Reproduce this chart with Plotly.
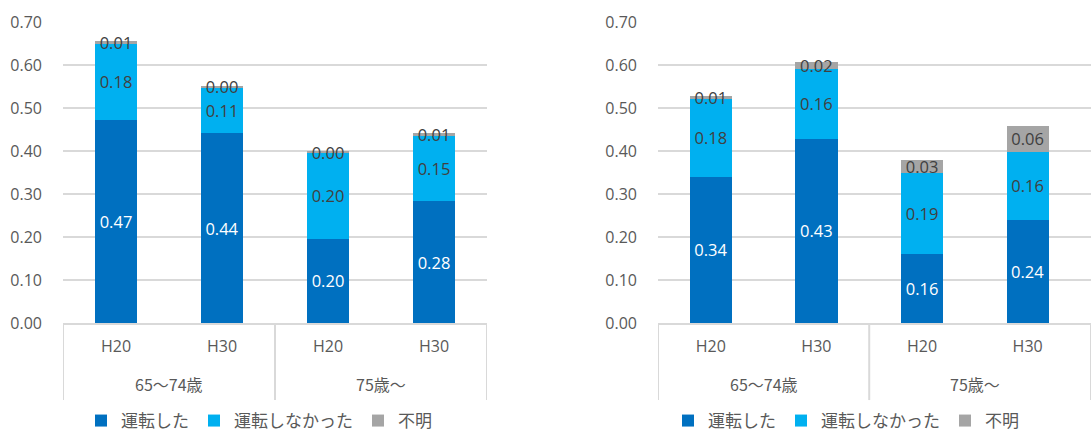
import plotly.graph_objects as go

groups = ["65～74歳", "65～74歳", "75歳～", "75歳～"]
years = ["H20", "H30", "H20", "H30"]
series_names = ["運転した", "運転しなかった", "不明"]

left_drove = [0.472, 0.441, 0.196, 0.283]
left_not = [0.178, 0.107, 0.200, 0.152]
left_unknown = [0.006, 0.004, 0.004, 0.006]

right_drove = [0.340, 0.429, 0.160, 0.240]
right_not = [0.181, 0.161, 0.189, 0.158]
right_unknown = [0.007, 0.018, 0.029, 0.060]

y_ticks = [0.0, 0.1, 0.2, 0.3, 0.4, 0.5, 0.6, 0.7]

colors = ["#0070C0", "#00B0F0", "#A5A5A5"]
text_colors = ["#FFFFFF", "#404040", "#404040"]
JP = "Noto Sans CJK JP"
NUM = "Open Sans, Noto Sans CJK JP"
GRAY = "#595959"
LINE = "#D9D9D9"

# category keys built from groups/years
cat_keys = [f"{g}|{y}" for g, y in zip(groups, years)]

fig = go.Figure()

panels = [
    ("x", "y", "legend", [left_drove, left_not, left_unknown], [-0.5, 3.5]),
    ("x2", "y2", "legend2", [right_drove, right_not, right_unknown], [-0.5, 3.6]),
]

for xa, ya, leg, data, rng in panels:
    for i, vals in enumerate(data):
        fig.add_trace(go.Bar(
            x=cat_keys, y=vals, name=series_names[i],
            marker=dict(color=colors[i], line=dict(width=0)),
            texttemplate="%{y:.2f}", textposition="inside",
            insidetextanchor="middle", constraintext="none",
            textfont=dict(color=text_colors[i], size=16.5, family=NUM),
            xaxis=xa, yaxis=ya, legend=leg, hoverinfo="skip",
        ))

# group labels and dividers, derived from the groups list
annotations = []
shapes = []
unique_groups = []
for g in groups:
    if g not in unique_groups:
        unique_groups.append(g)

for xa, ya, leg, data, rng in panels:
    xref = xa
    boundaries = [rng[0]]
    for g in unique_groups:
        idx = [k for k, gg in enumerate(groups) if gg == g]
        annotations.append(dict(
            x=(idx[0] + idx[-1]) / 2, xref=xref, y=-0.2027, yref="paper",
            text=g, showarrow=False, yanchor="middle",
            font=dict(size=16, color=GRAY, family=JP),
        ))
        boundaries.append(idx[-1] + 0.5)
    boundaries[-1] = rng[1]
    for b in boundaries:
        shapes.append(dict(
            type="line", xref=xref, yref="paper", x0=b, x1=b, y0=0, y1=-0.256,
            line=dict(color=LINE, width=2),
        ))

axis_common = dict(
    type="category", showline=True, linecolor=LINE, linewidth=2,
    tickvals=cat_keys, ticktext=years,
    tickfont=dict(size=16, color=GRAY, family=NUM),
    ticks="", showgrid=False, automargin=False, ticklabelstandoff=8,
)
yaxis_common = dict(
    range=[0, 0.7], tickvals=y_ticks, tickformat=".2f",
    showgrid=True, gridcolor=LINE, gridwidth=2,
    zeroline=False, showline=False, automargin=False,
    tickfont=dict(size=16, color=GRAY, family=NUM),
    ticklabelstandoff=20,
)

legend_common = dict(
    orientation="h", xanchor="center", yanchor="middle",
    yref="container", y=(432 - 421) / 432,
    font=dict(size=17, color=GRAY, family=JP), traceorder="normal",
    bgcolor="rgba(0,0,0,0)", itemclick=False, itemwidth=30,
)

fig.update_layout(
    width=1091, height=432,
    margin=dict(l=0, r=0, t=22, b=109, autoexpand=False),
    paper_bgcolor="white", plot_bgcolor="white",
    barmode="stack", bargap=0.6,
    font=dict(family=JP, color=GRAY),
    xaxis=dict(domain=[63 / 1091, 487 / 1091], anchor="y", range=panels[0][4], **axis_common),
    yaxis=dict(anchor="x", **yaxis_common),
    xaxis2=dict(domain=[658 / 1091, 1.0], anchor="y2", range=panels[1][4], **axis_common),
    yaxis2=dict(anchor="x2", **yaxis_common),
    legend=dict(x=259 / 1091, **legend_common),
    legend2=dict(x=846 / 1091, **legend_common),
    annotations=annotations, shapes=shapes,
    showlegend=True,
)

fig.write_html("out.html")
